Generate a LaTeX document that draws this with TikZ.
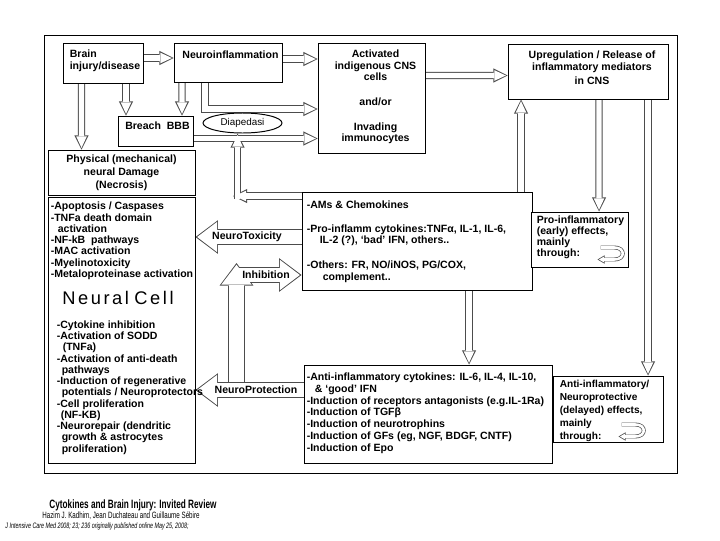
\documentclass[tikz,border=0pt]{standalone}
\usepackage{fontspec}
\setmainfont{Liberation Sans}
\newfontfamily\spacedfont[LetterSpace=14]{Liberation Sans}
\newfontfamily\narrowfont[FakeStretch=0.68]{Liberation Sans}
\usetikzlibrary{arrows.meta,shapes.geometric,backgrounds}

\newlength\pxu
\setlength\pxu{0.025cm}

\tikzset{
  box/.style={draw, line width=0.7pt, fill=white, inner sep=0pt},
  txt/.style={inner sep=0pt, align=left, font=\fontsize{7.5}{8.3}\selectfont\bfseries},
  flow edge/.style={draw=black!70, line width=5pt, -{Triangle[length=10pt,width=10pt,line width=0pt]}},
  flow core/.style={draw=white, line width=3.8pt, shorten >=1.2pt, -{Triangle[length=8.2pt,width=7.6pt,line width=0pt]}},
  block edge/.style={draw=black!70, line width=11.4pt, -{Triangle[length=16pt,width=24pt,line width=0pt]}},
  block core/.style={draw=white, line width=10.2pt, shorten >=1.2pt, -{Triangle[length=14.2pt,width=21.6pt,line width=0pt]}},
  curl edge/.style={draw=black!70, line width=2.8pt, -{Triangle[length=5pt,width=6pt,line width=0pt]}},
  curl core/.style={draw=white, line width=1.8pt, shorten >=1pt, -{Triangle[length=3.5pt,width=4pt,line width=0pt]}},
}

\begin{document}
\begin{tikzpicture}[x=0.025cm, y=-0.025cm]
  \useasboundingbox (0,0) rectangle (720,540);
  % outer frame
  \draw[line width=0.7pt] (44,35) rectangle (677,473);

  % top row
  \node[box, minimum width=80\pxu, minimum height=40\pxu] (brain) at (103,63) {};
  \node[box, minimum width=108\pxu, minimum height=39\pxu] (neuro) at (228,62.5) {};
  \node[box, minimum width=107\pxu, minimum height=110\pxu] (act) at (371.5,98) {};
  \node[box, minimum width=160\pxu, minimum height=55\pxu] (upreg) at (588,71.5) {};
  \node[box, minimum width=75\pxu, minimum height=30\pxu] (breach) at (155.5,131) {};
  \node[box, ellipse, minimum width=79\pxu, minimum height=20\pxu, font=\fontsize{7}{8}\selectfont] (dia) at (242.5,123) {Diapedasi};

  % left column
  \node[box, minimum width=147\pxu, minimum height=45\pxu, align=center, font=\fontsize{7.5}{9.2}\selectfont\bfseries] (phys) at (121.5,172.5) {Physical (mechanical)\\neural Damage\\(Necrosis)};
  \node[box, minimum width=147\pxu, minimum height=266\pxu] (neural) at (121.5,330) {};

  % middle and right
  \node[box, minimum width=230\pxu, minimum height=98\pxu] (mid) at (417,241) {};
  \node[box, minimum width=97\pxu, minimum height=55\pxu] (pro) at (579.5,239.5) {};
  \node[box, minimum width=110\pxu, minimum height=66\pxu] (anti) at (608,409) {};
  \node[box, minimum width=248\pxu, minimum height=98\pxu] (bot) at (428,414) {};

  % free ends of the arrows
  \coordinate (bendfoot) at (237.5,199);
  \coordinate (bendtip) at (233,196);
  \coordinate (inhfoot) at (236.5,382);
  \coordinate (inhtop) at (236.5,263);
  \coordinate (inhstart) at (239,275);

  \begin{pgfonlayer}{background}
    \fill[white] (0,0) rectangle (720,540);
    % outline first, then the white inside
    \foreach \p in {edge,core} {
      \draw[flow \p] ([shift={(0,-5)}]brain.east) -- ([shift={(0,-4.5)}]neuro.west);
      \draw[flow \p] ([shift={(0,-3.5)}]neuro.east) -- ([shift={(0,-39)}]act.west);
      \draw[flow \p] ([shift={(0,-22.5)}]act.east) -- ([shift={(0,4)}]upreg.west);
      \draw[flow \p] ([shift={(-21.5,0)}]brain.south) -- ([shift={(-40,0)}]phys.north);
      \draw[flow \p] ([shift={(23,0)}]brain.south) -- ([shift={(-29.5,0)}]breach.north);
      \draw[flow \p] ([shift={(-46,0)}]neuro.south) -- ([shift={(26.5,0)}]breach.north);
      \draw[flow \p] ([shift={(-23,0)}]neuro.south) |- ([shift={(0,11)}]act.west);
      \draw[flow \p] ([shift={(0,7.5)}]breach.east) -- ([shift={(0,40.5)}]act.west);
      \draw[flow \p] ([shift={(104,0)}]mid.north) -- ([shift={(-67,0)}]upreg.south);
      \draw[flow \p] ([shift={(11,0)}]upreg.south) -- ([shift={(19.5,0)}]pro.north);
      \draw[flow \p] ([shift={(60,0)}]upreg.south) -- ([shift={(40,0)}]anti.north);
      \draw[flow \p] ([shift={(52,0)}]mid.south) -- ([shift={(41,0)}]bot.north);
      \draw[flow \p] (bendfoot) -- ([shift={(-5,0)}]dia.south);
      \draw[flow \p] ([shift={(0,-45)}]mid.west) -- (bendtip);
      \draw[block \p] (inhfoot) -- (inhtop);
      \draw[block \p] (inhstart) -- ([shift={(0,34)}]mid.west);
      \draw[block \p] ([shift={(0,-4)}]mid.west) -- ([shift={(0,-93)}]neural.east);
      \draw[block \p] ([shift={(0,-24)}]bot.west) -- ([shift={(0,60)}]neural.east);
    }
  \end{pgfonlayer}

  % texts in the boxes
  \node[txt, anchor=north west] (braint) at ([shift={(7,7)}]brain.north west) {Brain\\injury/disease};
  \node[txt, anchor=north] (neurot) at ([shift={(2.5,8)}]neuro.north) {Neuroinflammation};
  \node[txt, anchor=north, align=center] (actt) at ([shift={(4,7)}]act.north) {Activated\\indigenous CNS\\cells\\[9pt]and/or\\[9.5pt]Invading\\immunocytes};
  \node[txt, anchor=north, align=center] (upregt) at ([shift={(4,7)}]upreg.north) {Upregulation / Release of\\inflammatory mediators\\[2pt]in CNS};
  \node[txt, anchor=north] (breacht) at ([shift={(2,6)}]breach.north) {Breach\ \ BBB};
  \node[txt, anchor=north west, font=\fontsize{7.5}{8}\selectfont\bfseries] (deatht) at ([shift={(3,5.5)}]neural.north west) {-Apoptosis / Caspases\\-TNFa death domain\\\hspace*{7\pxu}activation\\-NF-kB\ \ pathways\\-MAC activation\\-Myelinotoxicity\\-Metaloproteinase activation};
  \node[inner sep=0pt, font=\spacedfont\fontsize{13}{13}\selectfont] (cellt) at ([shift={(-3.5,-32)}]neural.center) {Neural\hspace{0.3em}Cell};
  \node[txt, anchor=north west, font=\fontsize{7.5}{8}\selectfont\bfseries] (repairt) at ([shift={(9,124)}]neural.north west) {-Cytokine inhibition\\-Activation of SODD\\\hspace*{6\pxu}(TNFa)\\-Activation of anti-death\\\hspace*{5\pxu}pathways\\-Induction of regenerative\\\hspace*{5\pxu}potentials / Neuroprotectors\\-Cell proliferation\\\hspace*{4\pxu}(NF-KB)\\-Neurorepair (dendritic\\\hspace*{5\pxu}growth \& astrocytes\\\hspace*{5\pxu}proliferation)};
  \node[txt, anchor=north west] (midt) at ([shift={(5,9)}]mid.north west) {-AMs \& Chemokines\\[8.5pt]-Pro-inflamm cytokines:TNFα, IL-1, IL-6,\\\hspace*{13\pxu}IL-2 (?), ‘bad’ IFN, others..\\[9.5pt]-Others: FR, NO/iNOS, PG/COX,\\\hspace*{16\pxu}complement..};
  \node[txt, anchor=north west, font=\fontsize{7.5}{7.6}\selectfont\bfseries] (prot) at ([shift={(6,4.5)}]pro.north west) {Pro-inflammatory\\(early) effects,\\mainly\\through:};
  \node[txt, anchor=north west, font=\fontsize{7.2}{9.2}\selectfont\bfseries] (antit) at ([shift={(7,4.5)}]anti.north west) {Anti-inflammatory/\\Neuroprotective\\(delayed) effects,\\mainly\\through:};
  \node[txt, anchor=north west, font=\fontsize{7.5}{8.4}\selectfont\bfseries] (bott) at ([shift={(3,8)}]bot.north west) {-Anti-inflammatory cytokines: IL-6, IL-4, IL-10,\\\hspace*{8\pxu}\& ‘good’ IFN\\-Induction of receptors antagonists (e.g.IL-1Ra)\\-Induction of TGFβ\\-Induction of neurotrophins\\-Induction of GFs (eg, NGF, BDGF, CNTF)\\-Induction of Epo};

  % small turning arrows
  \foreach \b/\dx/\dy in {pro/0/0, anti/-14/2}
    \foreach \p in {edge,core}
      \draw[curl \p, shift={(\b.south east)}, shift={(\dx,\dy)}] (-28,-20) -- (-14,-20) .. controls (-3,-20) and (-3,-8) .. (-14,-8) -- (-31,-8);

  % labels on the wide arrows
  \node[txt] (toxl) at (247,237) {NeuroToxicity};
  \node[txt] (inhl) at (266,275) {Inhibition};
  \node[txt] (protl) at (256,390) {NeuroProtection};

  % reference
  \node[inner sep=0pt, font=\narrowfont\bfseries\fontsize{8.6}{9}\selectfont] (cite1) at (133,505) {Cytokines and Brain Injury: Invited Review};
  \node[inner sep=0pt, font=\narrowfont\fontsize{6.5}{7}\selectfont] (cite2) at (121,516) {Hazim J. Kadhim, Jean Duchateau and Guillaume Sébire};
  \node[inner sep=0pt, font=\narrowfont\itshape\fontsize{5.6}{6}\selectfont] (cite3) at (97,526) {J Intensive Care Med 2008; 23; 236 originally published online May 25, 2008;};
\end{tikzpicture}
\end{document}
